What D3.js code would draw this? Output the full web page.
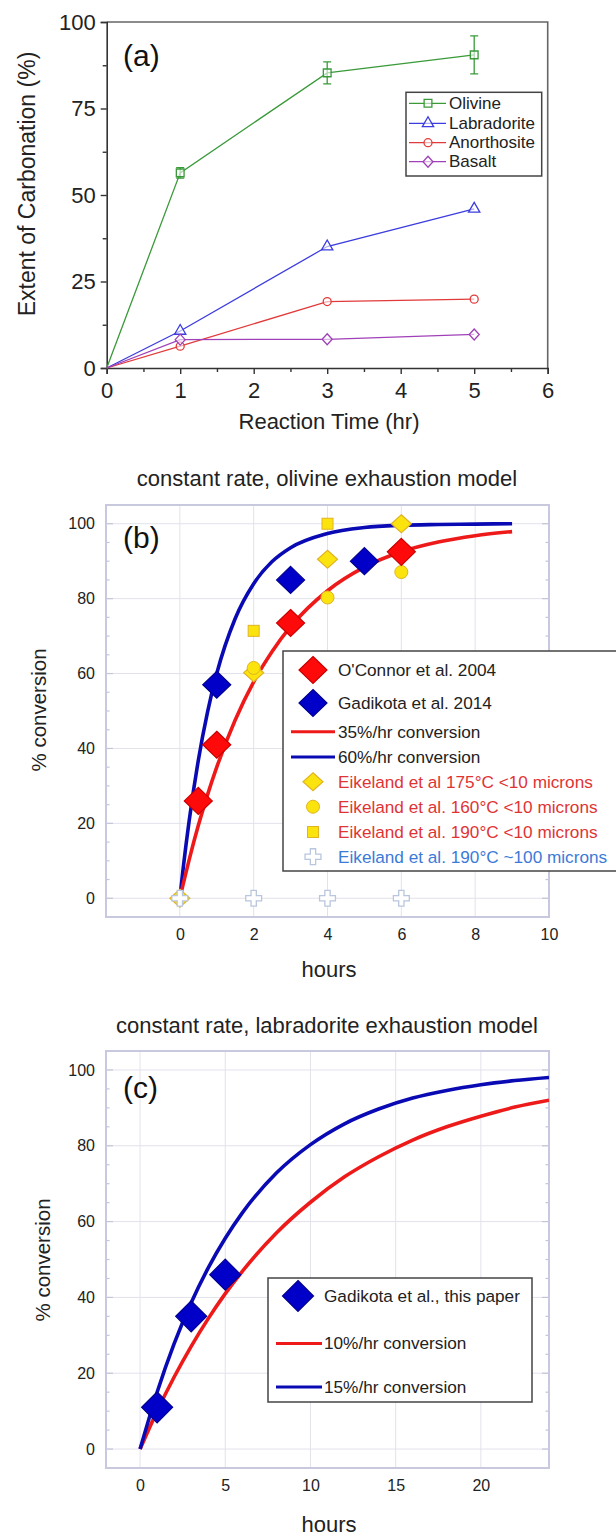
<!DOCTYPE html>
<html><head><meta charset="utf-8">
<script src="https://cdn.jsdelivr.net/npm/d3@7"></script>
<style>html,body{margin:0;padding:0;background:#fff}svg{display:block}</style>
</head><body>
<script>
// ---------- DATA ----------
// Panel (a)
const aTime = [0, 1, 3, 5];
const aOlivine = [0, 56.4, 85.3, 90.5];
const aOlivineErr = [0, 1.5, 3.2, 5.5];
const aLabradorite = [0, 10.7, 35.1, 46];
const aAnorthosite = [0, 6.3, 19.2, 19.9];
const aBasalt = [0, 8.2, 8.3, 9.7];
const aSeriesNames = ["Olivine", "Labradorite", "Anorthosite", "Basalt"];
const aXTicks = [0, 1, 2, 3, 4, 5, 6];
const aYTicks = [0, 25, 50, 75, 100];

// Panel (b)
const bTitle = "constant rate, olivine exhaustion model";
const bOConnorT = [0.5, 1, 3, 6];
const bOConnorV = [26, 41, 73.5, 92.5];
const bGadikotaT = [1, 3, 5];
const bGadikotaV = [57, 85, 90];
const bEik175T = [0, 2, 4, 6];
const bEik175V = [0, 60.2, 90.5, 100];
const bEik160T = [2, 4, 6];
const bEik160V = [61.5, 80.3, 87.1];
const bEik190T = [2, 4];
const bEik190V = [71.4, 100];
const bEik190cT = [0, 2, 4, 6];
const bEik190cV = [0, 0, 0, 0];
const bCurveT = [0, 0.1, 0.25, 0.5, 0.75, 1, 1.5, 2, 2.5, 3, 4, 5, 6, 7, 8, 9];
const bRed35 = [0, 4.2, 10.2, 19.4, 27.6, 35, 47.6, 57.8, 65.9, 72.5, 82.1, 88.4, 92.5, 95.1, 96.8, 97.9];
const bBlue60 = [0, 8.8, 20.5, 36.8, 49.7, 60, 74.7, 84, 89.9, 93.6, 97.4, 99, 99.6, 99.8, 99.9, 100];
const bXTicks = [0, 2, 4, 6, 8, 10];
const bYTicks = [0, 20, 40, 60, 80, 100];
const bLegend = ["O'Connor et al. 2004", "Gadikota et al. 2014", "35%/hr conversion", "60%/hr conversion",
  "Eikeland et al 175°C <10 microns", "Eikeland et al. 160°C <10 microns",
  "Eikeland et al. 190°C <10 microns", "Eikeland et al. 190°C ~100 microns"];

// Panel (c)
const cTitle = "constant rate, labradorite exhaustion model";
const cGadikotaT = [1, 3, 5];
const cGadikotaV = [11, 35, 46];
const cCurveT = [0, 1, 2, 3, 4, 5, 6, 8, 10, 12, 14, 16, 18, 20, 22, 24];
const cRed10 = [0, 10, 19, 27.1, 34.4, 41, 46.9, 57, 65.1, 71.8, 77.1, 81.5, 85, 87.8, 90.2, 92];
const cBlue15 = [0, 15, 27.8, 38.6, 47.8, 55.6, 62.3, 72.8, 80.3, 85.8, 89.7, 92.6, 94.6, 96.1, 97.2, 98];
const cXTicks = [0, 5, 10, 15, 20];
const cYTicks = [0, 20, 40, 60, 80, 100];
const cLegend = ["Gadikota et al., this paper", "10%/hr conversion", "15%/hr conversion"];

// ---------- DRAW ----------
const FONT = "'Liberation Sans', Arial, Helvetica, sans-serif";
const svg = d3.select("body").append("svg").attr("width", 616).attr("height", 1535)
  .style("font-family", FONT);
svg.append("rect").attr("width", 616).attr("height", 1535).attr("fill", "#fff");

const diamond = (w, h) => `M0,${-h}L${w},0L0,${h}L${-w},0Z`;
const zip = (t, v) => t.map((d, i) => ({t: d, v: v[i]}));

// ===== Panel (a) =====
{
  const x = d3.scaleLinear().domain([0, 6]).range([106.7, 547.7]);
  const y = d3.scaleLinear().domain([0, 100]).range([368, 22]);
  const g = svg.append("g");
  const colors = ["#3a9a3a", "#3c3ce0", "#e23a3a", "#a040b8"];
  const series = [aOlivine, aLabradorite, aAnorthosite, aBasalt];
  const symbols = [d3.symbolSquare, d3.symbolTriangle, d3.symbolCircle, null];

  g.append("path").attr("d", `M${x(0)},${y(100)}H${x(6)}V${y(0)}`)
    .attr("fill", "none").attr("stroke", "#666").attr("stroke-width", 1.6);

  g.append("g").attr("transform", `translate(0,${y(0)})`)
    .call(d3.axisBottom(x).tickValues(aXTicks).tickSize(6).tickPadding(8).tickFormat(d3.format("d")));
  g.append("g").attr("transform", `translate(0,${y(0)})`)
    .call(d3.axisBottom(x).tickValues(d3.range(0.5, 6, 1)).tickSize(4).tickFormat(""))
    .call(a => a.select(".domain").remove());
  g.append("g").attr("transform", `translate(${x(0)},0)`)
    .call(d3.axisLeft(y).tickValues(aYTicks).tickSize(6).tickPadding(5));
  g.append("g").attr("transform", `translate(${x(0)},0)`)
    .call(d3.axisLeft(y).tickValues([12.5, 37.5, 62.5, 87.5]).tickSize(4).tickFormat(""))
    .call(a => a.select(".domain").remove());
  g.selectAll(".domain").attr("stroke", "#333").attr("stroke-width", 1.6);
  g.selectAll(".tick line").attr("stroke", "#333").attr("stroke-width", 1.4);
  g.selectAll(".tick text").attr("font-size", 22).attr("font-family", FONT).attr("fill", "#222");

  g.append("text").attr("x", 329).attr("y", 421).attr("text-anchor", "middle")
    .attr("dominant-baseline", "central").attr("font-size", 22).attr("fill", "#222").text("Reaction Time (hr)");
  g.append("text").attr("transform", "translate(27,184) rotate(-90)").attr("text-anchor", "middle")
    .attr("dominant-baseline", "central").attr("font-size", 23).attr("fill", "#222").text("Extent of Carbonation (%)");
  g.append("text").attr("x", 123).attr("y", 55).attr("dominant-baseline", "central")
    .attr("font-size", 30).attr("fill", "#111").text("(a)");

  const line = d3.line().x(d => x(d.t)).y(d => y(d.v));
  series.forEach((s, i) => {
    g.append("path").attr("d", line(zip(aTime, s))).attr("fill", "none")
      .attr("stroke", colors[i]).attr("stroke-width", 1.3);
  });
  zip(aTime, aOlivine).forEach((d, i) => {
    const e = aOlivineErr[i];
    if (!e) return;
    const cx = x(d.t), y1 = y(d.v + e), y2 = y(d.v - e);
    g.append("path").attr("d", `M${cx},${y1}V${y2}M${cx - 4},${y1}H${cx + 4}M${cx - 4},${y2}H${cx + 4}`)
      .attr("stroke", colors[0]).attr("stroke-width", 1.3).attr("fill", "none");
  });
  const drawMarker = (sel, i, cx, cy) => {
    const m = i === 3
      ? sel.append("path").attr("d", diamond(5, 5.5))
      : sel.append("path").attr("d", d3.symbol().type(symbols[i]).size(i === 1 ? 55 : i === 2 ? 50 : 60)());
    m.attr("transform", `translate(${cx},${cy})`).attr("fill", "#fff").attr("fill-opacity", 0.6)
      .attr("stroke", colors[i]).attr("stroke-width", 1.3);
  };
  series.forEach((s, i) => {
    zip(aTime, s).filter(d => d.t > 0).forEach(d => drawMarker(g, i, x(d.t), y(d.v)));
  });

  const lg = g.append("g");
  lg.append("rect").attr("x", 406).attr("y", 92.3).attr("width", 135.7).attr("height", 83.7)
    .attr("fill", "#fff").attr("stroke", "#444").attr("stroke-width", 1.5);
  const rows = [103.3, 123.3, 142.7, 161.7];
  aSeriesNames.forEach((n, i) => {
    lg.append("line").attr("x1", 409).attr("x2", 446).attr("y1", rows[i]).attr("y2", rows[i])
      .attr("stroke", colors[i]).attr("stroke-width", 1.3);
    drawMarker(lg, i, 428, rows[i]);
    lg.append("text").attr("x", 449).attr("y", rows[i]).attr("dominant-baseline", "central")
      .attr("font-size", 17).attr("fill", "#222").text(n);
  });
}

// ===== helper for panels (b),(c) =====
function framePanel(g, x, y, xTicks, yTicks, gridX, minorStep, clipId) {
  const [x0, x1] = x.range(), [yb, yt] = y.range();
  const [d0, d1] = y.domain();
  gridX.forEach(v => g.append("line").attr("x1", x(v)).attr("x2", x(v)).attr("y1", yt).attr("y2", yb)
    .attr("stroke", "#e2e2ec").attr("stroke-width", 1));
  yTicks.forEach(v => g.append("line").attr("x1", x0).attr("x2", x1).attr("y1", y(v)).attr("y2", y(v))
    .attr("stroke", "#e2e2ec").attr("stroke-width", 1));
  d3.range(Math.ceil(d0 / minorStep) * minorStep, d1 + 0.001, minorStep).forEach(v => {
    const major = yTicks.includes(v);
    const L = major ? 7 : 3.5;
    g.append("line").attr("x1", x0).attr("x2", x0 + L).attr("y1", y(v)).attr("y2", y(v))
      .attr("stroke", "#c4c4da").attr("stroke-width", 1.2);
    g.append("line").attr("x1", x1).attr("x2", x1 - L).attr("y1", y(v)).attr("y2", y(v))
      .attr("stroke", "#c4c4da").attr("stroke-width", 1.2);
  });
  g.append("rect").attr("x", x0).attr("y", yt).attr("width", x1 - x0).attr("height", yb - yt)
    .attr("fill", "none").attr("stroke", "#c8c8de").attr("stroke-width", 2);
  g.append("clipPath").attr("id", clipId).append("rect")
    .attr("x", x0).attr("y", yt).attr("width", x1 - x0).attr("height", yb - yt);
  const ax = g.append("g").attr("transform", `translate(0,${yb})`)
    .call(d3.axisBottom(x).tickValues(xTicks).tickSize(0).tickPadding(12).tickFormat(d3.format("d")));
  const ay = g.append("g").attr("transform", `translate(${x0},0)`)
    .call(d3.axisLeft(y).tickValues(yTicks).tickSize(0).tickPadding(11).tickFormat(d3.format("d")));
  [ax, ay].forEach(a => {
    a.select(".domain").remove();
    a.selectAll("text").attr("font-size", 16).attr("font-family", FONT).attr("fill", "#222");
  });
}

// ===== Panel (b) =====
{
  const x = d3.scaleLinear().domain([-2, 10]).range([106, 549]);
  const y = d3.scaleLinear().domain([-5, 105]).range([917, 505]);
  const g = svg.append("g");
  framePanel(g, x, y, bXTicks, bYTicks, [0, 2, 4, 6, 8], 5, "clipB");

  g.append("text").attr("x", 327).attr("y", 478).attr("text-anchor", "middle").attr("dominant-baseline", "central")
    .attr("font-size", 22).attr("fill", "#222").text(bTitle);
  g.append("text").attr("x", 329).attr("y", 969).attr("text-anchor", "middle").attr("dominant-baseline", "central")
    .attr("font-size", 22).attr("fill", "#222").text("hours");
  g.append("text").attr("transform", "translate(38,710) rotate(-90)").attr("text-anchor", "middle")
    .attr("dominant-baseline", "central").attr("font-size", 20.5).attr("fill", "#222").text("% conversion");
  g.append("text").attr("x", 123).attr("y", 537).attr("dominant-baseline", "central")
    .attr("font-size", 30).attr("fill", "#111").text("(b)");

  const line = d3.line().x(d => x(d.t)).y(d => y(d.v)).curve(d3.curveMonotoneX);
  const cg = g.append("g").attr("clip-path", "url(#clipB)");
  cg.append("path").attr("d", line(zip(bCurveT, bBlue60))).attr("fill", "none")
    .attr("stroke", "#0a0ab4").attr("stroke-width", 3.6);
  cg.append("path").attr("d", line(zip(bCurveT, bRed35))).attr("fill", "none")
    .attr("stroke", "#ee1a1a").attr("stroke-width", 3.6);

  const yel = "#fbe40e", yelS = "#e0b422";
  const drawBig = (sel, cx, cy, fill, stroke) => sel.append("path").attr("d", diamond(14, 13.5))
    .attr("transform", `translate(${cx},${cy})`).attr("fill", fill).attr("stroke", stroke).attr("stroke-width", 1.2);
  const drawY175 = (sel, cx, cy) => sel.append("path").attr("d", diamond(10, 9))
    .attr("transform", `translate(${cx},${cy})`).attr("fill", yel).attr("stroke", yelS).attr("stroke-width", 1.2);
  const drawY160 = (sel, cx, cy) => sel.append("circle").attr("cx", cx).attr("cy", cy).attr("r", 6.5)
    .attr("fill", yel).attr("stroke", yelS).attr("stroke-width", 1);
  const drawY190 = (sel, cx, cy) => sel.append("rect").attr("x", cx - 5.5).attr("y", cy - 5.5)
    .attr("width", 11).attr("height", 11).attr("fill", yel).attr("stroke", yelS).attr("stroke-width", 1);
  const drawCross = (sel, cx, cy) => sel.append("path").attr("d", d3.symbol().type(d3.symbolCross).size(140)())
    .attr("transform", `translate(${cx},${cy})`).attr("fill", "#fff").attr("stroke", "#b8c6de").attr("stroke-width", 1.3);

  zip(bEik175T, bEik175V).forEach(d => drawY175(g, x(d.t), y(d.v)));
  zip(bEik160T, bEik160V).forEach(d => drawY160(g, x(d.t), y(d.v)));
  zip(bEik190T, bEik190V).forEach(d => drawY190(g, x(d.t), y(d.v)));
  zip(bEik190cT, bEik190cV).forEach(d => drawCross(g, x(d.t), y(d.v)));
  zip(bOConnorT, bOConnorV).forEach(d => drawBig(g, x(d.t), y(d.v), "#ff0a0a", "#c80000"));
  zip(bGadikotaT, bGadikotaV).forEach(d => drawBig(g, x(d.t), y(d.v), "#0000c8", "#000090"));

  const lg = g.append("g");
  lg.append("rect").attr("x", 283).attr("y", 651).attr("width", 345).attr("height", 220)
    .attr("fill", "#fff").attr("stroke", "#444").attr("stroke-width", 1.5);
  const rows = [670, 703, 731.7, 757, 781.7, 806.7, 832, 856.7];
  const mx = 313;
  drawBig(lg, mx, rows[0], "#ff0a0a", "#c80000");
  drawBig(lg, mx, rows[1], "#0000c8", "#000090");
  lg.append("line").attr("x1", 291).attr("x2", 335).attr("y1", rows[2]).attr("y2", rows[2])
    .attr("stroke", "#ee1a1a").attr("stroke-width", 3);
  lg.append("line").attr("x1", 291).attr("x2", 335).attr("y1", rows[3]).attr("y2", rows[3])
    .attr("stroke", "#0a0ab4").attr("stroke-width", 3);
  drawY175(lg, mx, rows[4]);
  drawY160(lg, mx, rows[5]);
  drawY190(lg, mx, rows[6]);
  drawCross(lg, mx, rows[7]);
  const tcol = ["#222", "#222", "#222", "#222", "#e03434", "#e03434", "#e03434", "#3c7ad8"];
  bLegend.forEach((t, i) => lg.append("text").attr("x", 338).attr("y", rows[i]).attr("dominant-baseline", "central")
    .attr("font-size", 17.2).attr("fill", tcol[i]).text(t));
}

// ===== Panel (c) =====
{
  const x = d3.scaleLinear().domain([-2, 24]).range([106, 549]);
  const y = d3.scaleLinear().domain([-5, 105]).range([1468, 1051]);
  const g = svg.append("g");
  framePanel(g, x, y, cXTicks, cYTicks, [0, 5, 10, 15, 20], 5, "clipC");

  g.append("text").attr("x", 327).attr("y", 1025).attr("text-anchor", "middle").attr("dominant-baseline", "central")
    .attr("font-size", 22).attr("fill", "#222").text(cTitle);
  g.append("text").attr("x", 329).attr("y", 1524).attr("text-anchor", "middle").attr("dominant-baseline", "central")
    .attr("font-size", 22).attr("fill", "#222").text("hours");
  g.append("text").attr("transform", "translate(42,1260) rotate(-90)").attr("text-anchor", "middle")
    .attr("dominant-baseline", "central").attr("font-size", 20.5).attr("fill", "#222").text("% conversion");
  g.append("text").attr("x", 123).attr("y", 1087).attr("dominant-baseline", "central")
    .attr("font-size", 30).attr("fill", "#111").text("(c)");

  const line = d3.line().x(d => x(d.t)).y(d => y(d.v)).curve(d3.curveMonotoneX);
  const cg = g.append("g").attr("clip-path", "url(#clipC)");
  cg.append("path").attr("d", line(zip(cCurveT, cRed10))).attr("fill", "none")
    .attr("stroke", "#ee1a1a").attr("stroke-width", 3.6);
  cg.append("path").attr("d", line(zip(cCurveT, cBlue15))).attr("fill", "none")
    .attr("stroke", "#0a0ab4").attr("stroke-width", 3.6);

  const drawBig = (sel, cx, cy) => sel.append("path").attr("d", diamond(15.5, 15.5))
    .attr("transform", `translate(${cx},${cy})`).attr("fill", "#0000c8").attr("stroke", "#000090").attr("stroke-width", 1.2);
  zip(cGadikotaT, cGadikotaV).forEach(d => drawBig(g, x(d.t), y(d.v)));

  const lg = g.append("g");
  lg.append("rect").attr("x", 268).attr("y", 1278).attr("width", 264).attr("height", 124)
    .attr("fill", "#fff").attr("stroke", "#444").attr("stroke-width", 1.5);
  const rows = [1296, 1343.4, 1387];
  drawBig(lg, 298, rows[0]);
  lg.append("line").attr("x1", 276).attr("x2", 322).attr("y1", rows[1]).attr("y2", rows[1])
    .attr("stroke", "#ee1a1a").attr("stroke-width", 3);
  lg.append("line").attr("x1", 276).attr("x2", 322).attr("y1", rows[2]).attr("y2", rows[2])
    .attr("stroke", "#0a0ab4").attr("stroke-width", 3);
  cLegend.forEach((t, i) => lg.append("text").attr("x", 324).attr("y", rows[i]).attr("dominant-baseline", "central")
    .attr("font-size", 17.2).attr("fill", "#222").text(t));
}
</script>
</body></html>
